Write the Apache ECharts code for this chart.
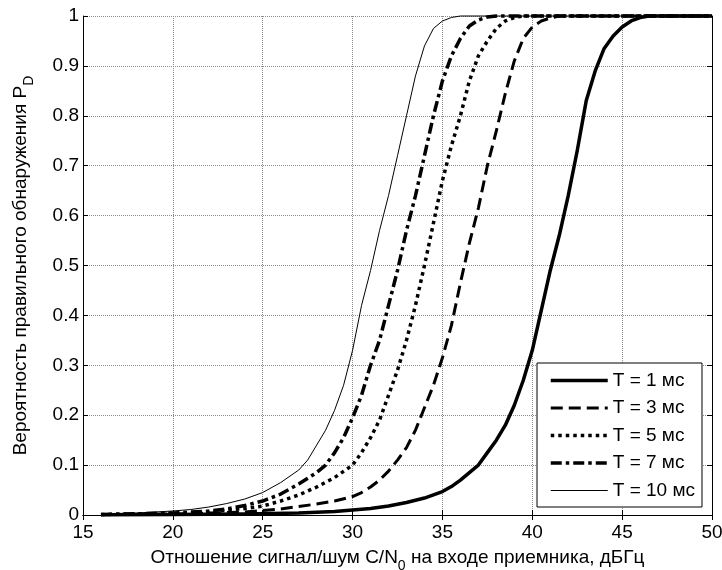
<!DOCTYPE html>
<html><head><meta charset="utf-8">
<script src="https://cdn.jsdelivr.net/npm/echarts@6/dist/echarts.min.js"></script>
<style>html,body{margin:0;padding:0;background:#fff}#c{width:722px;height:570px}</style>
</head><body><div id="c"></div>
<script>
// X-axis: SNR C/N0, dB-Hz ; Y-axis: detection probability
const xMin = 15, xMax = 50, xStep = 5;
const yMin = 0, yMax = 1, yStep = 0.1;
const seriesNames = ['T = 1 мс', 'T = 3 мс', 'T = 5 мс', 'T = 7 мс', 'T = 10 мс'];

const t1X = [16,20,24,27,29,30,31,32,33,34,35,35.5,36,36.5,37,37.5,38,38.5,39,39.5,40,40.5,41,41.5,42,42.5,43,43.5,44,44.5,45,45.5,46,46.5,50];
const t1Y = [0.0005,0.001,0.002,0.004,0.007,0.01,0.013,0.018,0.025,0.034,0.047,0.057,0.07,0.085,0.10,0.125,0.15,0.18,0.22,0.27,0.33,0.41,0.49,0.56,0.64,0.73,0.83,0.89,0.935,0.96,0.978,0.99,0.997,1,1];

const t3X = [16,20,24,26,28,29,30,30.5,31,31.5,32,32.5,33,33.5,34,34.5,35,35.5,36,36.5,37,37.5,38,38.5,39,39.5,40,40.5,41,41.5,50];
const t3Y = [0.001,0.002,0.006,0.012,0.022,0.028,0.037,0.045,0.056,0.07,0.088,0.11,0.135,0.17,0.215,0.26,0.315,0.38,0.465,0.545,0.615,0.70,0.77,0.845,0.91,0.955,0.978,0.99,0.996,1,1];

const t5X = [16,20,22,24,25,26,27,28,29,30,30.5,31,31.5,32,32.5,33,33.5,34,34.5,35,35.5,36,36.5,37,37.5,38,38.5,39,39.5,50];
const t5Y = [0.001,0.003,0.006,0.013,0.018,0.028,0.04,0.056,0.075,0.10,0.125,0.155,0.19,0.24,0.29,0.35,0.42,0.50,0.585,0.67,0.74,0.80,0.87,0.92,0.95,0.975,0.99,0.997,1,1];

const t7X = [16,20,22,23,24,25,26,27,28,28.5,29,29.5,30,30.5,31,31.5,32,32.5,33,33.5,34,34.5,35,35.5,36,36.5,37,37.5,38,50];
const t7Y = [0.001,0.004,0.008,0.012,0.019,0.028,0.042,0.062,0.085,0.10,0.125,0.155,0.195,0.24,0.30,0.35,0.42,0.49,0.57,0.64,0.72,0.80,0.87,0.92,0.955,0.98,0.992,0.998,1,1];

const t10X = [16,18,20,21,22,23,24,25,26,27,27.5,28,28.5,29,29.5,30,30.5,31,31.5,32,32.5,33,33.5,34,34.5,35,35.5,36,50];
const t10Y = [0.002,0.004,0.008,0.011,0.016,0.023,0.032,0.045,0.065,0.09,0.11,0.14,0.17,0.21,0.26,0.33,0.42,0.49,0.57,0.64,0.72,0.80,0.88,0.94,0.975,0.99,0.997,1,1];

const xs = [t1X, t3X, t5X, t7X, t10X];
const ys = [t1Y, t3Y, t5Y, t7Y, t10Y];
const styles = [
  {width: 3.5, type: 'solid'},
  {width: 3, type: [12, 6]},
  {width: 3.5, type: [3.5, 4]},
  {width: 3.5, type: [11, 4, 3.5, 4]},
  {width: 1, type: 'solid'}
];

const FONT = 'Liberation Sans, Arial, sans-serif';
const FS = 19;
const chart = echarts.init(document.getElementById('c'), null, {renderer: 'canvas'});

const series = seriesNames.map((n, i) => ({
  name: n, type: 'line', symbol: 'none', showSymbol: false, clip: false,
  data: xs[i].map((x, k) => [x, ys[i][k]]),
  lineStyle: {color: '#000', width: styles[i].width, type: styles[i].type, cap: 'butt', join: 'round'},
  itemStyle: {color: '#000'}
}));

const tickCommon = {show: true, inside: true, length: 5, lineStyle: {color: '#000', width: 1}};
const subRich = {s: {fontSize: 14, fontFamily: FONT, color: '#000', padding: [17, 0, 0, 0]}};
chart.setOption({
  animation: false,
  backgroundColor: '#fff',
  textStyle: {fontFamily: FONT},
  grid: {left: 83, top: 16, width: 629, height: 499, containLabel: false, outerBoundsMode: 'none'},
  xAxis: [{
    type: 'value', min: xMin, max: xMax, interval: xStep, position: 'bottom',
    axisLine: {show: true, lineStyle: {color: '#000', width: 1}},
    axisTick: tickCommon,
    axisLabel: {color: '#000', fontSize: FS, fontFamily: FONT, margin: 8},
    splitLine: {show: true, lineStyle: {color: '#8c8c8c', width: 1, type: 'dotted'}},
    name: 'Отношение сигнал/шум C/N{s|0} на входе приемника, дБГц',
    nameLocation: 'middle', nameGap: 27,
    nameTextStyle: {color: '#000', fontSize: FS, fontFamily: FONT, rich: subRich}
  }, {
    type: 'value', min: xMin, max: xMax, interval: xStep, position: 'top',
    axisLine: {show: true, lineStyle: {color: '#000', width: 1}},
    axisTick: tickCommon, axisLabel: {show: false}, splitLine: {show: false}
  }],
  yAxis: [{
    type: 'value', min: yMin, max: yMax, interval: yStep, position: 'left',
    axisLine: {show: true, lineStyle: {color: '#000', width: 1}},
    axisTick: tickCommon,
    axisLabel: {color: '#000', fontSize: FS, fontFamily: FONT, margin: 4},
    splitLine: {show: true, lineStyle: {color: '#8c8c8c', width: 1, type: 'dotted'}},
    name: 'Вероятность правильного обнаружения P{s|D}',
    nameLocation: 'middle', nameGap: 47,
    nameTextStyle: {color: '#000', fontSize: FS, fontFamily: FONT, rich: subRich}
  }, {
    type: 'value', min: yMin, max: yMax, interval: yStep, position: 'right',
    axisLine: {show: true, lineStyle: {color: '#000', width: 1}},
    axisTick: tickCommon, axisLabel: {show: false}, splitLine: {show: false}
  }],
  legend: {
    orient: 'vertical', left: 537, top: 363,
    backgroundColor: '#fff', borderColor: '#000', borderWidth: 1,
    padding: [8, 7, 7, 12], itemWidth: 57, itemHeight: 18, itemGap: 8.5,
    selectedMode: false,
    itemStyle: {color: 'rgba(0,0,0,0)', borderWidth: 0, opacity: 0},
    textStyle: {color: '#000', fontSize: FS, fontFamily: FONT},
    data: seriesNames.map((n, i) => ({
      name: n,
      itemStyle: {color: 'rgba(0,0,0,0)', borderWidth: 0, opacity: 0},
      lineStyle: {color: '#000', width: styles[i].width, type: styles[i].type, opacity: 1}
    }))
  },
  series: series
});
</script></body></html>
